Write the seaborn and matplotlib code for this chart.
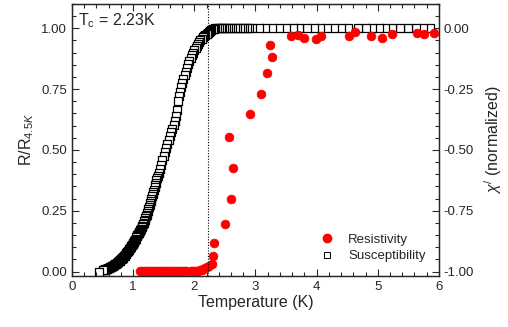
import numpy as np
import pandas as pd
import matplotlib
matplotlib.use('Agg')
import matplotlib.pyplot as plt
from matplotlib.lines import Line2D
from matplotlib.ticker import MultipleLocator
import seaborn as sns

#%% dados lidos do grafico
# resistividade normalizada R/R4.5K
temp_res = [1.12, 1.15, 1.18, 1.21, 1.24, 1.27, 1.30, 1.33, 1.36, 1.39, 1.42, 1.45,
            1.48, 1.51, 1.54, 1.57, 1.60, 1.63, 1.66, 1.69, 1.72, 1.75, 1.78, 1.81,
            1.84, 1.87, 1.94, 1.97, 2.00, 2.03, 2.06, 2.09, 2.12, 2.15, 2.18, 2.21, 2.24,
            2.288, 2.304, 2.330, 2.510, 2.598, 2.631, 2.570, 2.918, 3.093, 3.191,
            3.278, 3.245, 3.583, 3.693, 3.796, 3.992, 4.069, 4.523, 4.621, 4.891,
            5.074, 5.229, 5.637, 5.757, 5.923]
r_norm = [0.002, 0.003, 0.002, 0.003, 0.002, 0.003, 0.003, 0.002, 0.003, 0.002, 0.003, 0.002,
          0.002, 0.003, 0.002, 0.002, 0.003, 0.002, 0.002, 0.003, 0.003, 0.002, 0.003, 0.003,
          0.002, 0.002, 0.001, 0.001, 0.002, 0.003, 0.004, 0.006, 0.008, 0.011, 0.014, 0.018, 0.022,
          0.030, 0.065, 0.117, 0.195, 0.297, 0.426, 0.555, 0.649, 0.730, 0.816,
          0.881, 0.933, 0.967, 0.974, 0.959, 0.955, 0.968, 0.968, 0.984, 0.968,
          0.959, 0.977, 0.981, 0.977, 0.979]

# susceptibilidade chi' normalizada - parte densa (baixa T)
temp_chi_low = [0.44, 0.50, 0.51, 0.52, 0.53, 0.54, 0.55, 0.56, 0.57, 0.58, 0.59, 0.60,
                0.61, 0.62, 0.63, 0.64, 0.65, 0.66, 0.67, 0.68, 0.69, 0.70, 0.71, 0.72,
                0.73, 0.74, 0.75, 0.76, 0.77, 0.78, 0.79, 0.80, 0.81, 0.82, 0.83, 0.84,
                0.85, 0.86, 0.87, 0.88, 0.89, 0.90, 0.91, 0.92, 0.93, 0.94, 0.95, 0.96,
                0.97, 0.98, 0.99, 1.00, 1.01, 1.02, 1.03, 1.04, 1.05, 1.06, 1.07, 1.08,
                1.09, 1.10, 1.11, 1.12, 1.13, 1.14, 1.15, 1.16, 1.17, 1.18, 1.19, 1.20,
                1.21, 1.22, 1.23, 1.24, 1.25, 1.26, 1.27, 1.28, 1.29, 1.30, 1.31, 1.32,
                1.33, 1.34, 1.35, 1.36, 1.37, 1.38, 1.39, 1.40]
chi_low = [-1.000, -0.995, -0.994, -0.993, -0.992, -0.991, -0.990, -0.989, -0.988, -0.987, -0.986, -0.985,
           -0.984, -0.982, -0.981, -0.980, -0.978, -0.977, -0.975, -0.974, -0.972, -0.970, -0.969, -0.967,
           -0.965, -0.963, -0.961, -0.959, -0.957, -0.955, -0.952, -0.950, -0.947, -0.945, -0.942, -0.940,
           -0.937, -0.934, -0.931, -0.928, -0.924, -0.921, -0.917, -0.914, -0.910, -0.906, -0.902, -0.898,
           -0.894, -0.890, -0.886, -0.882, -0.877, -0.873, -0.868, -0.864, -0.859, -0.855, -0.850, -0.846,
           -0.841, -0.837, -0.832, -0.828, -0.823, -0.818, -0.812, -0.806, -0.800, -0.793, -0.787, -0.780,
           -0.773, -0.766, -0.759, -0.751, -0.743, -0.735, -0.727, -0.718, -0.709, -0.700, -0.691, -0.682,
           -0.673, -0.663, -0.653, -0.643, -0.634, -0.625, -0.616, -0.607]

# parte de transicao
temp_chi_mid = [1.42, 1.44, 1.46, 1.48, 1.50, 1.52, 1.54, 1.56, 1.58, 1.60, 1.62, 1.64,
                1.66, 1.68, 1.70, 1.72, 1.74, 1.75, 1.76, 1.78, 1.80, 1.82, 1.84, 1.86,
                1.88, 1.90, 1.92, 1.94, 1.96, 1.98, 2.00, 2.02, 2.04, 2.06, 2.08, 2.10,
                2.12, 2.14, 2.16, 2.18, 2.20, 2.22, 2.24, 2.26, 2.28, 2.30, 2.32, 2.34]
chi_mid = [-0.595, -0.578, -0.560, -0.543, -0.526, -0.509, -0.493, -0.477, -0.460, -0.444, -0.428, -0.412,
           -0.397, -0.382, -0.360, -0.335, -0.300, -0.280, -0.260, -0.240, -0.224, -0.210, -0.194, -0.178,
           -0.162, -0.148, -0.134, -0.122, -0.110, -0.100, -0.090, -0.081, -0.072, -0.064, -0.056, -0.049,
           -0.043, -0.037, -0.032, -0.027, -0.022, -0.018, -0.014, -0.010, -0.007, -0.004, -0.002, 0.000]

# estado normal (plano)
temp_chi_high = [2.37, 2.40, 2.43, 2.46, 2.49, 2.52, 2.55, 2.58, 2.62, 2.66, 2.70, 2.74,
                 2.78, 2.82, 2.86, 2.90, 2.94, 3.05, 3.16, 3.27, 3.38, 3.50, 3.61, 3.72,
                 3.84, 3.95, 4.06, 4.17, 4.29, 4.40, 4.51, 4.68, 4.80, 4.90, 5.02, 5.12,
                 5.24, 5.36, 5.50, 5.62, 5.74, 5.86]
chi_high = [0.0, 0.0, 0.0, 0.0, 0.0, 0.0, 0.0, 0.0, 0.0, 0.0, 0.0, 0.0,
            0.0, 0.0, 0.0, 0.0, 0.0, 0.0, 0.0, 0.0, 0.0, 0.0, 0.0, 0.0,
            0.0, 0.0, 0.0, 0.0, 0.0, 0.0, 0.0, 0.0, 0.0, 0.0, 0.0, 0.0,
            0.0, 0.0, 0.0, 0.0, 0.0, 0.0]

tc = 2.23

df_res = pd.DataFrame({'T': temp_res, 'R': r_norm})
df_chi = pd.DataFrame({'T': temp_chi_low + temp_chi_mid + temp_chi_high,
                       'chi': chi_low + chi_mid + chi_high})
# desenhado do quente para o frio (ultimo quadrado por cima)
df_chi = df_chi.iloc[::-1]

#%% figura
sns.set_style('ticks')
plt.rcParams['font.family'] = ['Liberation Sans', 'DejaVu Sans']
plt.rcParams['mathtext.fontset'] = 'custom'
plt.rcParams['mathtext.rm'] = 'Liberation Sans'
plt.rcParams['mathtext.it'] = 'Liberation Sans:italic'

fig = plt.figure(figsize=(5.08, 3.27), dpi=100)
ax = fig.add_axes([0.1417, 0.157, 0.7223, 0.831])
ax2 = ax.twinx()

sns.scatterplot(data=df_chi, x='T', y='chi', ax=ax2, marker='s', s=32,
                color='white', edgecolor='black', linewidth=0.9, legend=False)
sns.scatterplot(data=df_res, x='T', y='R', ax=ax, marker='o', s=40,
                color='red', edgecolor='red', linewidth=0.5, legend=False)

# resistividade por cima
ax.set_zorder(ax2.get_zorder() + 1)
ax.patch.set_visible(False)

ax.axvline(tc, color='black', linestyle=(0, (1, 1.5)), linewidth=0.8)

ax.set_xlim(0, 6)
ax.set_ylim(-0.0164, 1.10)
ax2.set_ylim(-1.0164, 0.10)

ax.xaxis.set_major_locator(MultipleLocator(1))
ax.xaxis.set_minor_locator(MultipleLocator(0.2))
ax.yaxis.set_major_locator(MultipleLocator(0.25))
ax.yaxis.set_minor_locator(MultipleLocator(0.05))
ax2.yaxis.set_major_locator(MultipleLocator(0.25))
ax2.yaxis.set_minor_locator(MultipleLocator(0.05))
ax.yaxis.set_major_formatter(plt.FormatStrFormatter('%.2f'))
ax2.yaxis.set_major_formatter(plt.FormatStrFormatter('%.2f'))

ax.tick_params(which='both', direction='in', top=True, labelsize=9.5, width=0.8)
ax.tick_params(which='major', length=5)
ax.tick_params(which='minor', length=3)
ax.tick_params(axis='y', right=False)
ax2.tick_params(which='both', direction='in', labelsize=9.5, width=0.8)
ax2.tick_params(which='major', length=5)
ax2.tick_params(which='minor', length=3)
for a in (ax, ax2):
    for s in a.spines.values():
        s.set_linewidth(0.9)

ax.set_xlabel('Temperature (K)', fontsize=11.5, labelpad=2)
ax.set_ylabel('R/R$_{4.5K}$', fontsize=11.5, labelpad=4)
ax2.set_ylabel('$\\chi^{/}$ (normalized)', fontsize=11.5, labelpad=6)

ax.text(0.016, 0.94, 'T$_\\mathrm{c}$ = 2.23K', transform=ax.transAxes,
        fontsize=11.5, va='center', ha='left')

handles = [Line2D([], [], marker='o', color='red', linestyle='none', markersize=6),
           Line2D([], [], marker='s', markerfacecolor='white', markeredgecolor='black',
                  linestyle='none', markersize=4.5, markeredgewidth=0.7)]
ax.legend(handles, ['Resistivity', 'Susceptibility'], loc='lower right',
          frameon=False, fontsize=9.5, handletextpad=0.6, borderaxespad=0.6,
          labelspacing=0.35, bbox_to_anchor=(1.0, 0.0))

fig.savefig('out.png', dpi=100)
